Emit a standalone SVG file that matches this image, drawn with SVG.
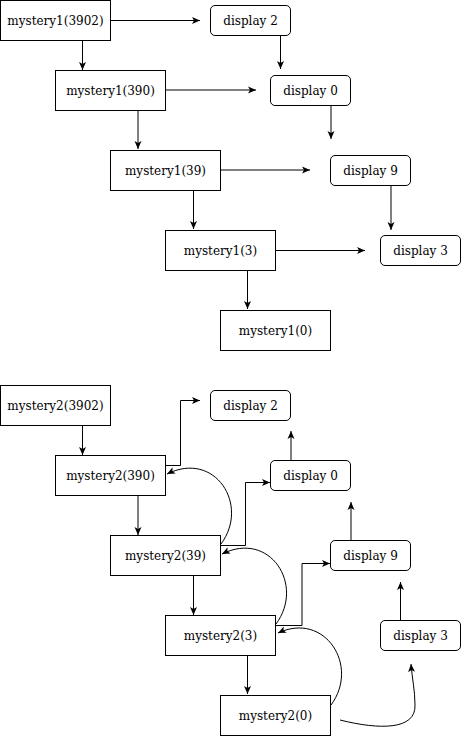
<svg xmlns="http://www.w3.org/2000/svg" width="461" height="736" viewBox="0 0 461 736">
<style>
.box{fill:#fff;stroke:#000;stroke-width:1}
.disp{fill:#fff;stroke:#000;stroke-width:1}
.lbl{font-family:"DejaVu Serif",serif;font-size:12px;fill:#000;text-anchor:middle}
.c{fill:none;stroke:#000;stroke-width:1;marker-end:url(#ah)}
</style>
<defs>
<marker id="ah" viewBox="0 0 8 8" refX="8" refY="4" markerWidth="8" markerHeight="8" markerUnits="userSpaceOnUse" orient="auto">
<path d="M0,0.5 L8,4 L0,7.5 L2,4 Z" fill="#000"/>
</marker>
</defs>
<rect width="461" height="736" fill="#fff"/>
<g id="connectors">
<path class="c" d="M110.5,20.5 H200"/>
<path class="c" d="M82.5,40.5 V70"/>
<path class="c" d="M280.5,35.5 V69"/>
<path class="c" d="M165.5,90 H256"/>
<path class="c" d="M138,110.5 V149"/>
<path class="c" d="M331,105.5 V139"/>
<path class="c" d="M220.5,170 H310"/>
<path class="c" d="M391,185.5 V230"/>
<path class="c" d="M193.5,190.5 V229"/>
<path class="c" d="M275.5,250.5 H365"/>
<path class="c" d="M247.5,270.5 V309"/>
<path class="c" d="M82.5,425.5 V455"/>
<path class="c" d="M165.5,465.5 H180.5 V400.5 H200"/>
<path class="c" d="M221,544 C250,505 215,450 167,474"/>
<path class="c" d="M291,460.5 V431"/>
<path class="c" d="M220.5,545.5 H245.5 V482.5 H270"/>
<path class="c" d="M138,495.5 V535"/>
<path class="c" d="M351,540.5 V502"/>
<path class="c" d="M275.5,625.5 H302 V563.5 H330"/>
<path class="c" d="M276,624 C305,585 270,530 222,554"/>
<path class="c" d="M400.5,620.5 V582"/>
<path class="c" d="M193.5,575.5 V615"/>
<path class="c" d="M331,705 C360,666 325,611 278,633"/>
<path class="c" d="M247.5,655.5 V694"/>
<path class="c" d="M340,720 C380,730 416,730 415,705 C415,690 412,678 411,664"/>
</g>
<g id="m1_3902"><rect class="box" x="0.5" y="0.5" width="110" height="40"/><text class="lbl" x="55.5" y="24.5">mystery1(3902)</text></g>
<g id="m1_390"><rect class="box" x="55.5" y="70.5" width="110" height="40"/><text class="lbl" x="110.5" y="94.5">mystery1(390)</text></g>
<g id="m1_39"><rect class="box" x="110.5" y="150.5" width="110" height="40"/><text class="lbl" x="165.5" y="174.5">mystery1(39)</text></g>
<g id="m1_3"><rect class="box" x="165.5" y="230.5" width="110" height="40"/><text class="lbl" x="220.5" y="254.5">mystery1(3)</text></g>
<g id="m1_0"><rect class="box" x="220.5" y="310.5" width="110" height="40"/><text class="lbl" x="275.5" y="334.5">mystery1(0)</text></g>
<g id="d1_2"><rect class="disp" x="210.5" y="5.5" width="80" height="30" rx="4.5"/><text class="lbl" x="250.5" y="24.5">display 2</text></g>
<g id="d1_0"><rect class="disp" x="270.5" y="75.5" width="80" height="30" rx="4.5"/><text class="lbl" x="310.5" y="94.5">display 0</text></g>
<g id="d1_9"><rect class="disp" x="330.5" y="155.5" width="80" height="30" rx="4.5"/><text class="lbl" x="370.5" y="174.5">display 9</text></g>
<g id="d1_3"><rect class="disp" x="380.5" y="235.5" width="80" height="30" rx="4.5"/><text class="lbl" x="420.5" y="254.5">display 3</text></g>
<g id="m2_3902"><rect class="box" x="0.5" y="385.5" width="110" height="40"/><text class="lbl" x="55.5" y="409.5">mystery2(3902)</text></g>
<g id="m2_390"><rect class="box" x="55.5" y="455.5" width="110" height="40"/><text class="lbl" x="110.5" y="479.5">mystery2(390)</text></g>
<g id="m2_39"><rect class="box" x="110.5" y="535.5" width="110" height="40"/><text class="lbl" x="165.5" y="559.5">mystery2(39)</text></g>
<g id="m2_3"><rect class="box" x="165.5" y="615.5" width="110" height="40"/><text class="lbl" x="220.5" y="639.5">mystery2(3)</text></g>
<g id="m2_0"><rect class="box" x="220.5" y="695.5" width="110" height="40"/><text class="lbl" x="275.5" y="719.5">mystery2(0)</text></g>
<g id="d2_2"><rect class="disp" x="210.5" y="390.5" width="80" height="30" rx="4.5"/><text class="lbl" x="250.5" y="409.5">display 2</text></g>
<g id="d2_0"><rect class="disp" x="270.5" y="460.5" width="80" height="30" rx="4.5"/><text class="lbl" x="310.5" y="479.5">display 0</text></g>
<g id="d2_9"><rect class="disp" x="330.5" y="540.5" width="80" height="30" rx="4.5"/><text class="lbl" x="370.5" y="559.5">display 9</text></g>
<g id="d2_3"><rect class="disp" x="380.5" y="620.5" width="80" height="30" rx="4.5"/><text class="lbl" x="420.5" y="639.5">display 3</text></g>
</svg>
